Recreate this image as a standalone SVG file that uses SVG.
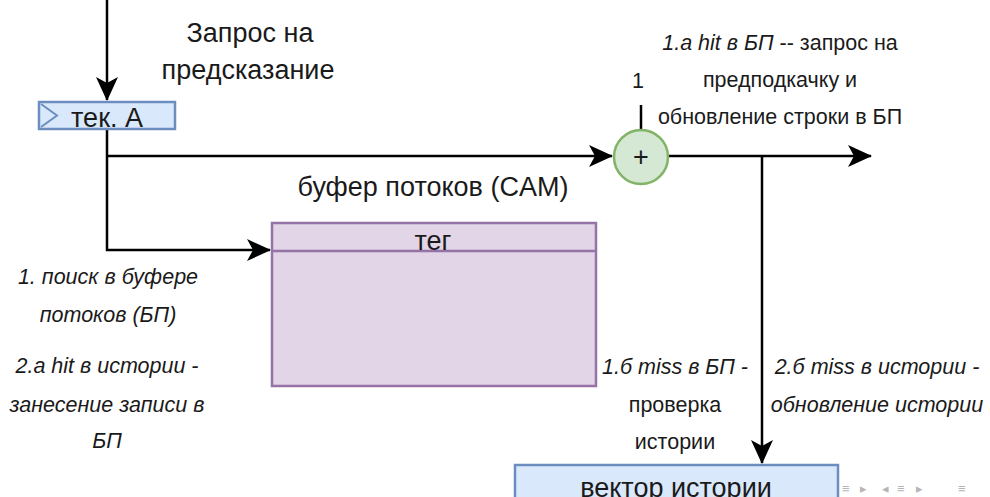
<svg xmlns="http://www.w3.org/2000/svg" width="990" height="497" viewBox="0 0 990 497">
<style>
text{font-family:"Liberation Sans",Arial,sans-serif;fill:#1a1a1a}
.big{font-size:27px}
.sm{font-size:21.5px}
.it{font-style:italic}
.ln{stroke:#000;stroke-width:2.5;fill:none}
.blue{fill:#dae8fc;stroke:#6c8ebf;stroke-width:2.5}
.nav{font-size:13px;fill:#b5b5b5}
</style>
<defs>
<marker id="ar" viewBox="0 0 24 22" refX="23" refY="11" markerWidth="24" markerHeight="22" markerUnits="userSpaceOnUse" orient="auto">
<path d="M0,0 L24,11 L0,22 L6,11 Z" fill="#000"/>
</marker>
</defs>
<g id="connectors">
<path class="ln" d="M107,0 V100" marker-end="url(#ar)"/>
<path class="ln" d="M107,129 V250 H270" marker-end="url(#ar)"/>
<path class="ln" d="M107,156 H612" marker-end="url(#ar)"/>
<path class="ln" d="M641,105 V130"/>
<path class="ln" d="M668,156 H871" marker-end="url(#ar)"/>
<path class="ln" d="M762,156 V463" marker-end="url(#ar)"/>
</g>
<g id="tekA">
<rect class="blue" x="39" y="102" width="136" height="27"/>
<path d="M41,104 L57,115.5 L41,127" fill="none" stroke="#6c8ebf" stroke-width="2"/>
<text class="big" x="107" y="127" text-anchor="middle">тек. A</text>
</g>
<g id="request">
<text class="big" x="250" y="42" text-anchor="middle">Запрос на</text>
<text class="big" x="248" y="79" text-anchor="middle">предсказание</text>
</g>
<g id="adder">
<circle cx="641" cy="157" r="27" fill="#d5e8d4" stroke="#82b366" stroke-width="2.5"/>
<text class="big" x="641" y="166" text-anchor="middle">+</text>
<text class="sm" x="638" y="88" text-anchor="middle">1</text>
</g>
<g id="buffer">
<text class="big" x="433" y="196" text-anchor="middle">буфер потоков (CAM)</text>
<rect x="272" y="223" width="324" height="163" fill="#e1d5e7" stroke="#9673a6" stroke-width="2.5"/>
<line x1="272" y1="251" x2="596" y2="251" stroke="#9673a6" stroke-width="2.5"/>
<text class="big" x="433" y="250" text-anchor="middle">тег</text>
</g>
<g id="history">
<rect class="blue" x="515" y="465" width="323" height="40"/>
<text class="big" x="676" y="497" text-anchor="middle">вектор истории</text>
</g>
<g id="labels">
<text class="sm" x="780" y="50" text-anchor="middle"><tspan class="it">1.а hit в БП</tspan> -- запрос на</text>
<text class="sm" x="780" y="87" text-anchor="middle">предподкачку и</text>
<text class="sm" x="780" y="124" text-anchor="middle">обновление строки в БП</text>
<text class="sm it" x="108" y="284" text-anchor="middle">1. поиск в буфере</text>
<text class="sm it" x="108" y="322" text-anchor="middle">потоков (БП)</text>
<text class="sm it" x="107" y="373" text-anchor="middle">2.а hit в истории -</text>
<text class="sm it" x="107" y="412" text-anchor="middle">занесение записи в</text>
<text class="sm it" x="107" y="448" text-anchor="middle">БП</text>
<text class="sm it" x="675" y="374" text-anchor="middle">1.б miss в БП -</text>
<text class="sm" x="675" y="412" text-anchor="middle">проверка</text>
<text class="sm" x="675" y="449" text-anchor="middle">истории</text>
<text class="sm it" x="877" y="374" text-anchor="middle">2.б miss в истории -</text>
<text class="sm it" x="877" y="412" text-anchor="middle">обновление истории</text>
</g>
<g id="nav">
<text class="nav" x="842" y="493">≡</text>
<text class="nav" x="860" y="493">▸</text>
<text class="nav" x="882" y="493">◂</text>
<text class="nav" x="897" y="493">≡</text>
<text class="nav" x="916" y="493">▸</text>
<text class="nav" x="958" y="493">≡</text>
</g>
</svg>
